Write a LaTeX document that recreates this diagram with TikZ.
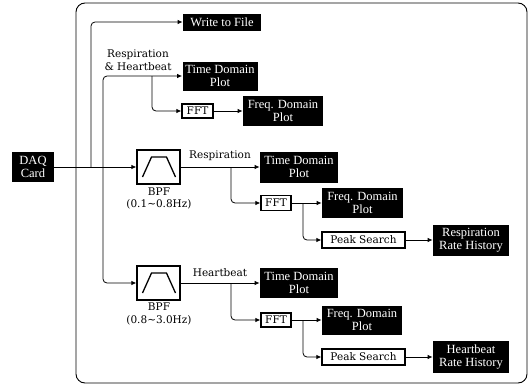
\documentclass[tikz,border=0pt]{standalone}
\usepackage{fontspec}
\setmainfont{DejaVu Serif}
\newfontfamily\boxfont{Liberation Serif}
\usetikzlibrary{arrows.meta}
\begin{document}
\begin{tikzpicture}[x=1pt,y=-1pt,
  line width=0.8pt,
  arr/.style={-{Latex[length=5pt,width=4.5pt]}, rounded corners=4pt},
  blk/.style={fill=black,text=white,inner sep=0pt,align=center,
    font=\boxfont\fontsize{12.5}{13}\selectfont},
  wbox/.style={draw,line width=1.3pt,fill=white,inner sep=0pt,
    font=\fontsize{10.5}{12}\selectfont},
  bpfbox/.style={draw,line width=1.3pt,fill=white,inner sep=0pt,
    minimum width=43pt,minimum height=34pt},
  lbl/.style={font=\fontsize{10.5}{12.5}\selectfont,inner sep=0pt,align=center}]
\useasboundingbox (0,0) rectangle (530,386);
\draw[rounded corners=9pt,line width=0.9pt] (76,3) rectangle (527,383);

% nodes
\node[blk,minimum width=42pt,minimum height=30pt] (daq) at (33,167) {DAQ\\Card};
\node[blk,minimum width=78pt,minimum height=17pt] (wtf) at (222,22) {Write to File};
\node[blk,minimum width=75pt,minimum height=29pt] (tdp1) at (220,76) {Time Domain\\Plot};
\node[wbox,minimum width=31pt,minimum height=14pt] (fft1) at (197.5,111) {FFT};
\node[blk,minimum width=80pt,minimum height=30pt] (fdp1) at (283,111) {Freq. Domain\\Plot};

\node[bpfbox] (bpf1) at (158.5,167) {};
\node[blk,minimum width=78pt,minimum height=31pt] (tdp2) at (299,167) {Time Domain\\Plot};
\node[wbox,minimum width=30pt,minimum height=15pt] (fft2) at (276,203) {FFT};
\node[blk,minimum width=81pt,minimum height=30pt] (fdp2) at (362.5,203) {Freq. Domain\\Plot};
\node[wbox,minimum width=83pt,minimum height=16pt] (ps1) at (363.5,240) {Peak Search};
\node[blk,minimum width=76pt,minimum height=31pt] (rrh) at (471,240) {Respiration\\Rate History};

\node[bpfbox] (bpf2) at (158.5,283) {};
\node[blk,minimum width=78pt,minimum height=30pt] (tdp3) at (299,283) {Time Domain\\Plot};
\node[wbox,minimum width=30pt,minimum height=14pt] (fft3) at (276,320) {FFT};
\node[blk,minimum width=80pt,minimum height=29pt] (fdp3) at (362,320) {Freq. Domain\\Plot};
\node[wbox,minimum width=83pt,minimum height=16pt] (ps2) at (363.5,357) {Peak Search};
\node[blk,minimum width=76pt,minimum height=32pt] (hrh) at (471,357) {Heartbeat\\Rate History};

% band-pass symbols
\foreach \b in {bpf1,bpf2}{
  \draw[line width=1.3pt] ([shift={(-16,10)}]\b.center) -- ([shift={(-7,-10)}]\b.center)
     -- ([shift={(8,-10)}]\b.center) -- ([shift={(17,10)}]\b.center);
}

% labels
\node[lbl] (lrh) at (138,60) {Respiration\\\& Heartbeat};
\node[lbl] (lr) at (220,156) {Respiration};
\node[lbl] (lh) at (220,273) {Heartbeat};
\node[lbl] (lb1) at (159,198.5) {BPF\\(0.1\textasciitilde0.8Hz)};
\node[lbl] (lb2) at (159,314) {BPF\\(0.8\textasciitilde3.0Hz)};

% junctions
\coordinate (j1) at (91,167);
\coordinate (j2) at (103,167);
\coordinate (j3) at (152,76);
\coordinate (j4) at (231,167);
\coordinate (j5) at (303,203);
\coordinate (j6) at (231,283);
\coordinate (j7) at (303,320);

% connectors
\draw[arr] (daq.east) -- (bpf1.west);
\draw[arr] (j1) |- (wtf.west);
\draw[arr] (j2) |- (tdp1.west);
\draw[arr] (j2) |- (bpf2.west);
\draw[arr] (j3) |- (fft1.west);
\draw[arr] (fft1.east) -- (fdp1.west);

\draw[arr] (bpf1.east) -- (tdp2.west);
\draw[arr] (j4) |- (fft2.west);
\draw[arr] (fft2.east) -- (fdp2.west);
\draw[arr] (j5) |- (ps1.west);
\draw[arr] (ps1.east) -- (rrh.west);

\draw[arr] (bpf2.east) -- (tdp3.west);
\draw[arr] (j6) |- (fft3.west);
\draw[arr] (fft3.east) -- (fdp3.west);
\draw[arr] (j7) |- (ps2.west);
\draw[arr] (ps2.east) -- (hrh.west);
\end{tikzpicture}
\end{document}
